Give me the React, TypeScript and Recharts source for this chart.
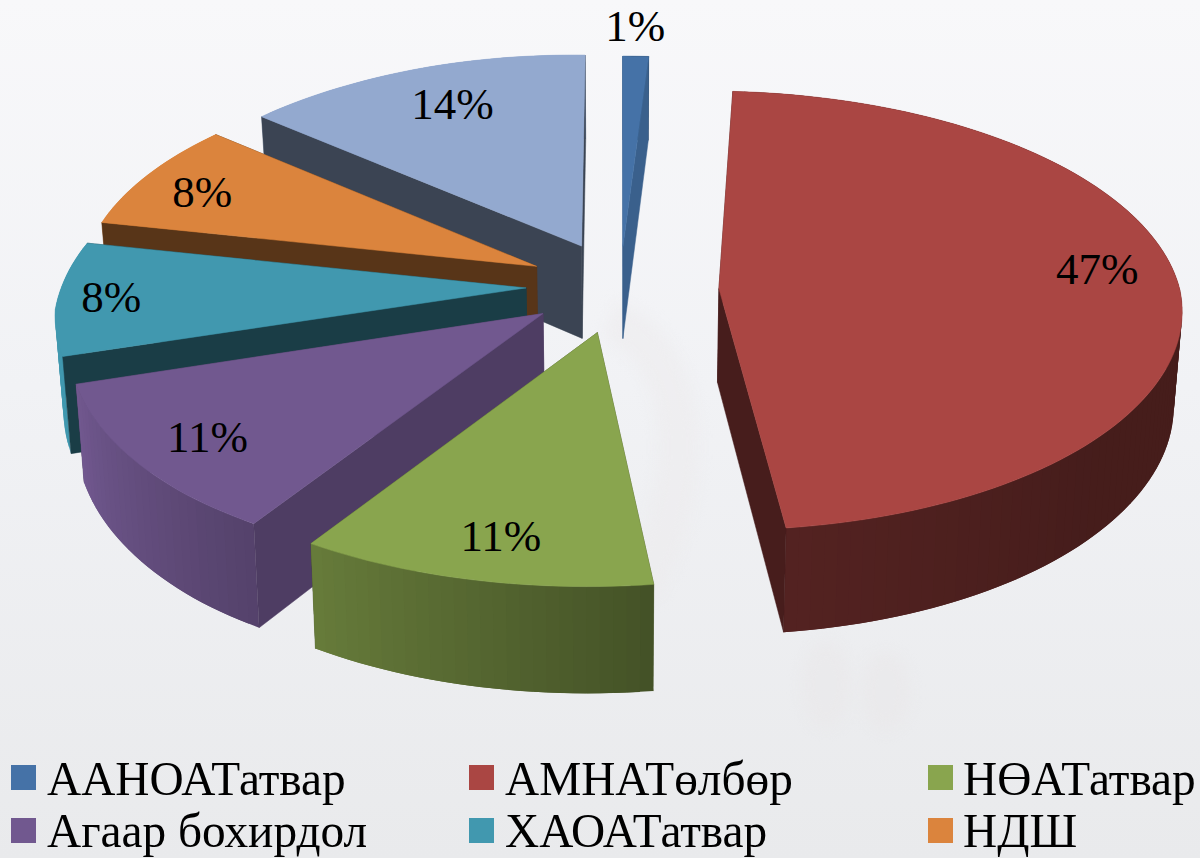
import React from "react";
import { PieChart, Pie, Legend } from "recharts";

// Data, listed clockwise from twelve o'clock
const categories = ["ААНОАТатвар", "АМНАТөлбөр", "НӨАТатвар", "Агаар бохирдол", "ХАОАТатвар", "НДШ", "Бусад"];
const shares = [1, 47, 11, 11, 8, 8, 14];
const colors = ["#4572A7", "#AA4643", "#89A54E", "#71588F", "#4198AF", "#DB843D", "#93A9CF"];
const cutFaceShades = [0.84, 0.42, 0.5, 0.69, 0.4, 0.4, 0.4];
const labelNudgeX = [-2, -2, 5, -2, -27, -11, 13];
const labelNudgeY = [-6, -14, 2, 2, 1, 2, 6];
const legendNames = categories.slice(0, 6);

// Reversed and swept counter-clockwise so the far slices paint first.
const rows = categories
  .map((name, i) => ({
    name,
    value: shares[i],
    fill: colors[i],
    faceShade: cutFaceShades[i],
    nudgeX: labelNudgeX[i],
    nudgeY: labelNudgeY[i],
  }))
  .reverse();

const EXPLODE = 95;
const TILT = 0.468;
const PERSPECTIVE = 0.1;
const SHEAR = 0.016;
const DEPTH = 94;
const LOWER_SCALE = 0.985;
const rad = (d: number) => (d * Math.PI) / 180;
const clamp01 = (v: number) => Math.max(0, Math.min(1, v));

function shade(hex: string, f: number) {
  const n = parseInt(hex.slice(1), 16);
  const c = [(n >> 16) & 255, (n >> 8) & 255, n & 255].map((v) => Math.round(v * f));
  return `rgb(${c[0]},${c[1]},${c[2]})`;
}

function wallShade(theta: number) {
  if (theta <= 172.7) return 0.41 + clamp01((theta - 130) / 42) * 0.08;
  return Math.min(1, 0.5 + (theta - 172.8) * 0.0064);
}

function makeProjector(cx: number, cy: number, R: number) {
  return (X: number, Y: number, lower: boolean) => {
    const s = 1 / (1 - (PERSPECTIVE * Y) / R);
    // small corrections for the lens distortion of the original 3D view
    const farLeftX = X < 0 ? 10 * clamp01(-X / 300) * clamp01((60 - Y) / 150) : 0;
    const nearRightX = X > 60 ? 4 * clamp01((500 - X) / 400) * clamp01((Y + 300) / 200) : 0;
    const leftLift = X < 0 ? (4 + 0.01 * -X) * clamp01(-X / 40) * clamp01((400 - Y) / 400) : 0;
    const x = cx + X * s * (lower ? LOWER_SCALE : 1) - (Y > 0 ? SHEAR * Y : 0) + farLeftX + nearRightX;
    const y = cy + TILT * Y * s + (lower ? DEPTH * s : 0) - leftLift;
    return [x, y] as [number, number];
  };
}

function slicePoint(theta: number, mid: number, r: number) {
  return [
    EXPLODE * Math.sin(rad(mid)) + r * Math.sin(rad(theta)),
    -EXPLODE * Math.cos(rad(mid)) - r * Math.cos(rad(theta)),
  ] as [number, number];
}

const poly = (pts: [number, number][]) =>
  "M" + pts.map((p) => `${p[0].toFixed(2)},${p[1].toFixed(2)}`).join("L") + "Z";

function Slice3D(props: any) {
  const { cx, cy, outerRadius: R, startAngle, endAngle, payload } = props;
  const fill = payload?.fill ?? props.fill;
  const faceShade = payload?.faceShade ?? props.faceShade;
  const t2 = 90 - startAngle === 0 ? 360 : ((90 - startAngle) % 360 + 360) % 360;
  const t1 = t2 - Math.abs(endAngle - startAngle);
  const mid = (t1 + t2) / 2;
  const project = makeProjector(cx, cy, R);
  const steps = Math.max(2, Math.ceil((t2 - t1) / 1.5));
  const thetas = Array.from({ length: steps + 1 }, (_, i) => t1 + ((t2 - t1) * i) / steps);
  const at = (theta: number, r: number, lower: boolean) => {
    const [X, Y] = slicePoint(theta, mid, r);
    return project(X, Y, lower);
  };
  const top = [at(t1, 0, false), ...thetas.map((t) => at(t, R, false))];
  const faceColor = shade(fill, faceShade);
  const face = (t: number) => (
    <path
      key={`f${t}`}
      d={poly([at(t, 0, false), at(t, R, false), at(t, R, true), at(t, 0, true)])}
      fill={faceColor}
      stroke={faceColor}
      strokeWidth={0.5}
    />
  );
  const wall = (i: number) => {
    const a = thetas[i];
    const b = thetas[Math.min(i + 2, steps)];
    const c = shade(fill, wallShade(a));
    return <path key={i} d={poly([at(a, R, false), at(b, R, false), at(b, R, true), at(a, R, true)])} fill={c} />;
  };
  const idx = thetas.slice(0, -1).map((_, i) => i);
  const isFront = (t: number) => Math.cos(rad(t)) <= 0;
  const t1Visible = t1 > 180;
  const t2Visible = t2 < 180;
  return (
    <g>
      {idx.filter((i) => !isFront(thetas[i])).map(wall)}
      {!t2Visible && face(t2)}
      {!t1Visible && face(t1)}
      {idx.filter((i) => isFront(thetas[i])).map(wall)}
      {t2Visible && face(t2)}
      {t1Visible && face(t1)}
      <path d={poly(top)} fill={fill} stroke={fill} strokeWidth={0.5} />
    </g>
  );
}

function SliceLabel(props: any) {
  const { cx, cy, outerRadius: R, midAngle, percent, payload } = props;
  const theta = 90 - midAngle;
  const f = percent < 0.02 ? 1.14 : 0.83;
  const [X, Y] = slicePoint(theta, theta, f * R);
  const [x, y] = makeProjector(cx, cy, R)(X, Y, false);
  const nx = payload?.nudgeX ?? props.nudgeX ?? 0;
  const ny = payload?.nudgeY ?? props.nudgeY ?? 0;
  return (
    <text x={x + nx} y={y + ny} textAnchor="middle" dominantBaseline="central" fontFamily="'Liberation Serif', serif" fontSize={45} fill="#000">
      {`${Math.round(percent * 100)}%`}
    </text>
  );
}

function LegendBox() {
  return (
    <div style={{ position: "absolute", left: 0, top: 0, width: 1200, height: 858 }}>
      {legendNames.map((name, i) => {
        const col = i % 3;
        const row = Math.floor(i / 3);
        const left = [11, 469, 928][col];
        return (
          <React.Fragment key={name}>
            <div style={{ position: "absolute", left, top: 765 + row * 53, width: 25, height: 25, background: colors[i] }} />
            <div
              style={{
                position: "absolute",
                left: left + 36 - (col === 2 ? 1 : 0),
                top: 752 + row * 52,
                fontFamily: "'Liberation Serif', serif",
                fontSize: 48,
                lineHeight: "54px",
                color: "#000",
                whiteSpace: "pre",
                transform: "scaleX(0.985)",
                transformOrigin: "left center",
              }}
            >
              {name}
            </div>
          </React.Fragment>
        );
      })}
    </div>
  );
}

function Watermark() {
  return (
    <svg width={1200} height={858} style={{ position: "absolute", left: 0, top: 0, filter: "blur(7px)" }}>
      <path d="M610 320 C690 350 700 480 640 590" fill="none" stroke="#ecebec" strokeWidth={40} opacity={0.55} />
      <ellipse cx={826} cy={685} rx={24} ry={44} fill="#e9e8e9" opacity={0.6} />
      <ellipse cx={886} cy={692} rx={24} ry={40} fill="#e9e8e9" opacity={0.6} />
    </svg>
  );
}

export default function App() {
  return (
    <div
      style={{
        position: "absolute",
        left: 0,
        top: 0,
        width: 1200,
        height: 858,
        overflow: "hidden",
        background: "linear-gradient(180deg, #f8f8fa 0%, #f1f2f5 45%, #e9eaec 100%)",
      }}
    >
      <Watermark />
      <PieChart width={1200} height={858} margin={{ top: 0, right: 0, bottom: 0, left: 0 }}>
        <Pie
          data={rows}
          dataKey="value"
          nameKey="name"
          cx={620}
          cy={290}
          innerRadius={0}
          outerRadius={465}
          startAngle={90}
          endAngle={450}
          stroke="none"
          isAnimationActive={false}
          shape={Slice3D}
          label={SliceLabel}
          labelLine={false}
        />
        <Legend content={LegendBox} wrapperStyle={{ position: "absolute", left: 0, top: 0, width: 1200, height: 858 }} />
      </PieChart>
    </div>
  );
}
